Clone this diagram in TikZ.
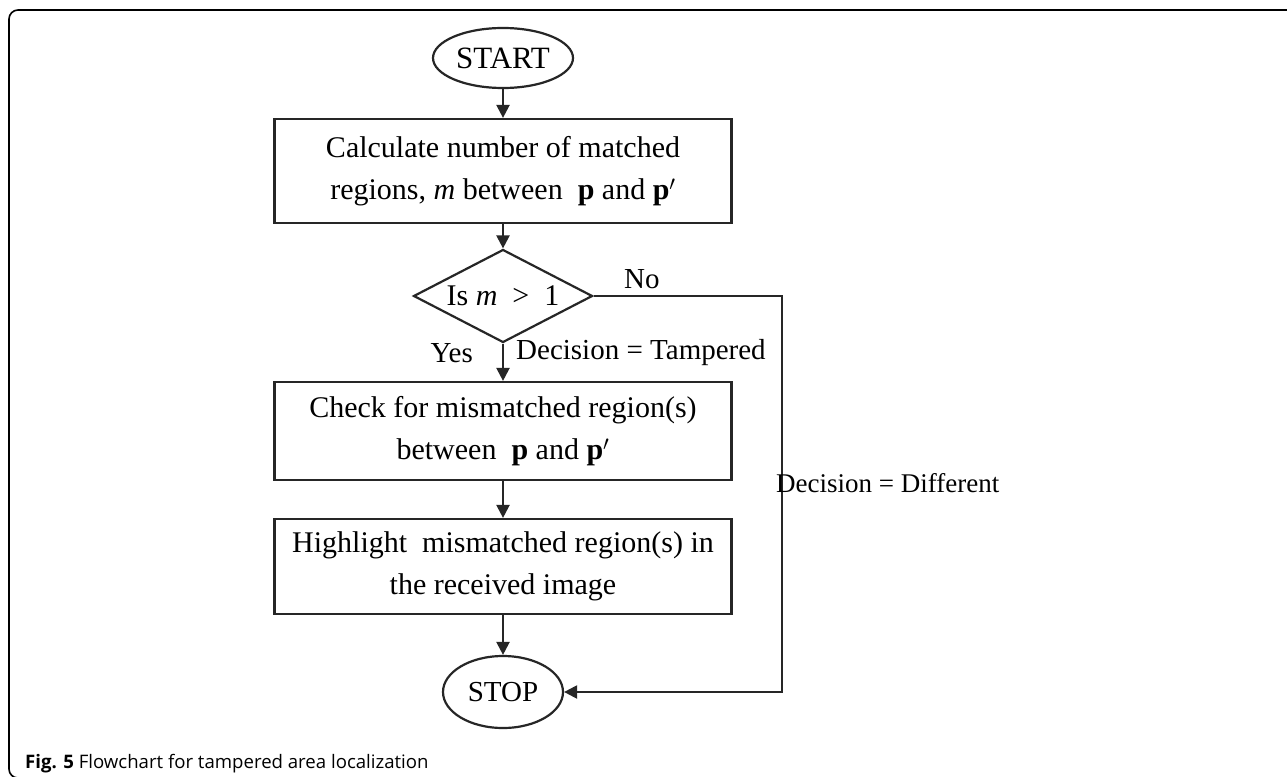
\documentclass[tikz,border=0pt]{standalone}
\usepackage{fontspec}
\setmainfont{Liberation Serif}
\newfontfamily\capfont{Open Sans}
\usetikzlibrary{shapes.geometric,arrows.meta}
\tikzset{
  ln/.style={line width=2.2pt, draw=black!85},
  arr/.style={ln, -{Triangle[length=13pt,width=13pt]}},
  boxnode/.style={ln, rectangle, minimum width=457pt, minimum height=104pt, inner sep=0pt, align=center, font=\fontsize{30}{42}\selectfont},
  term/.style={ln, ellipse, inner sep=0pt},
  lbl/.style={inner sep=0pt, font=\fontsize{29}{32}\selectfont}
}
\begin{document}
\begin{tikzpicture}[x=1pt,y=-1pt]
\useasboundingbox (0,0) rectangle (1287,776);
\fill[white] (0,0) rectangle (1287,776);
% frame
\draw[line width=1.6pt, rounded corners=9pt] (1300,10) -- (9,10) -- (9,778) -- (60,778);
% nodes
\node[term, minimum width=140pt, minimum height=60pt, font=\fontsize{31}{32}\selectfont] (start) at (503,58) {START};
\node[boxnode] (b1) at (503,171) {Calculate number of matched\\regions, \textit{m} between\ \ \textbf{p} and \textbf{p}$'$};
\node[ln, diamond, minimum width=179pt, minimum height=93pt, inner sep=0pt,
      label={[font=\fontsize{30}{32}\selectfont]center:Is \textit{m}\ \ >\ \ 1}] (dec) at (503,296) {};
\node[boxnode, minimum height=98pt] (b2) at (503,431) {Check for mismatched region(s)\\between\ \ \textbf{p} and \textbf{p}$'$};
\node[boxnode, minimum height=95pt] (b3) at (503,566.5) {Highlight\ \ mismatched region(s) in\\the received image};
\node[term, minimum width=120pt, minimum height=72pt, font=\fontsize{29}{32}\selectfont] (stop) at (503,692) {STOP};
\coordinate (rc) at (782,296);
% connectors
\draw[arr] (start) -- (b1);
\draw[arr] (b1) -- (dec);
\draw[arr] (dec) -- (b2);
\draw[arr] (b2) -- (b3);
\draw[arr] (b3) -- (stop);
\draw[arr] (dec.east) -- (rc) |- (stop.east);
% labels
\node[lbl, anchor=west] (no) at (624,279) {No};
\node[lbl, anchor=east] (yes) at (473,353) {Yes};
\node[lbl, anchor=west] (tamp) at (516,353) {Decision = Tampered};
\node[lbl, anchor=west, font=\fontsize{27}{32}\selectfont] (diff) at (776,483) {Decision = Different};
% caption
\node[anchor=base west, inner sep=0pt, font=\capfont\fontsize{18.6}{20}\selectfont] (cap) at (25,768) {\textbf{Fig. 5} Flowchart for tampered area localization};
\end{tikzpicture}
\end{document}
